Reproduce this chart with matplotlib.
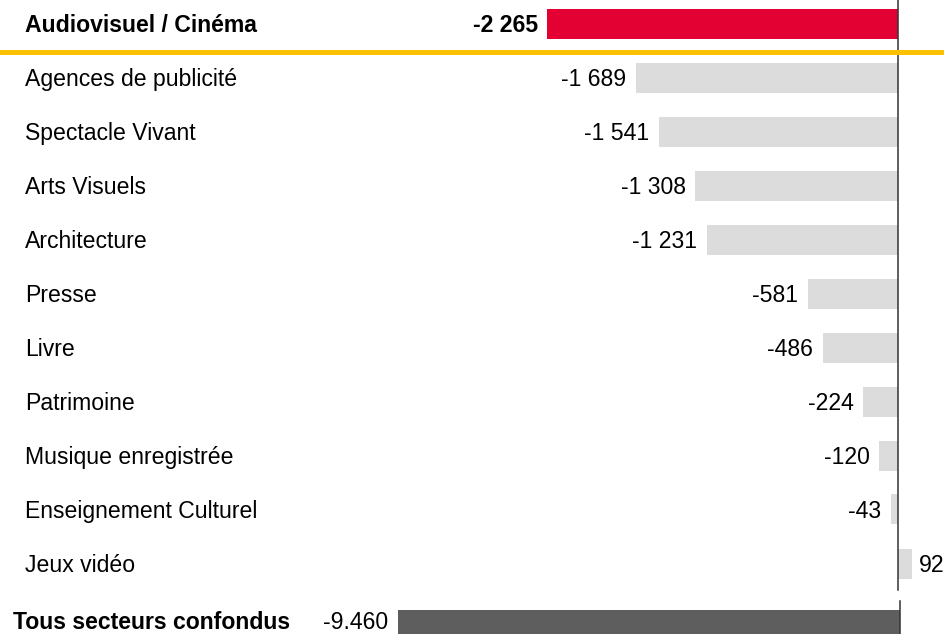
import matplotlib
matplotlib.use('Agg')
import matplotlib.pyplot as plt
from matplotlib.transforms import blended_transform_factory

plt.rcParams['font.family'] = ['Liberation Sans', 'DejaVu Sans']

# data (milliers d'emplois / évolution)
highlight = 'Audiovisuel / Cinéma'
highlight_value = -2265
sectors = ['Agences de publicité', 'Spectacle Vivant', 'Arts Visuels', 'Architecture',
           'Presse', 'Livre', 'Patrimoine', 'Musique enregistrée',
           'Enseignement Culturel', 'Jeux vidéo']
values = [-1689, -1541, -1308, -1231, -581, -486, -224, -120, -43, 92]
total_label = 'Tous secteurs confondus'
total_value = -9460

W, H = 944, 634
fs = 16.6
fig = plt.figure(figsize=(W / 100, H / 100), dpi=100)

# top axes: row pitch 54 px, zero at x=898 px, 0.155 px per unit
ppu = 0.155
pitch = 54.0
y0 = 23.5
dy = 2.0 / pitch  # text sits a little lower than bar centre
ax = fig.add_axes([0, 0, 1, 1])
ax.set_xlim(-898 / ppu, (W - 898) / ppu)
ax.set_ylim((H - y0) / pitch, -y0 / pitch)
ax.axis('off')
lab_tr = blended_transform_factory(ax.transAxes, ax.transData)


def fmt(v):
    s = f'{abs(v):,}'.replace(',', ' ')
    return ('-' if v < 0 else '') + s


bh = 30 / pitch
ax.barh([0], [highlight_value], height=bh, color='#E30032', zorder=2)
ax.text(25 / W, dy, highlight, transform=lab_tr, ha='left', va='center',
        fontsize=fs, fontweight='bold')
ax.annotate(fmt(highlight_value), (highlight_value, dy), xytext=(-6.5, 0),
            textcoords='offset points', ha='right', va='center',
            fontsize=fs, fontweight='bold')

rows = list(range(1, len(sectors) + 1))
ax.barh(rows, values, height=bh, color='#DCDCDC', zorder=2)
for r, name, v in zip(rows, sectors, values):
    ax.text(25 / W, r + dy, name, transform=lab_tr, ha='left', va='center', fontsize=fs)
    off = -7 if v < 0 else 5
    ax.annotate(fmt(v), (v, r + dy), xytext=(off, 0), textcoords='offset points',
                ha='right' if v < 0 else 'left', va='center', fontsize=fs)

# zero line and separator
ax.plot([0, 0], [-1, (590 - y0) / pitch], color='#333333', lw=1.1, zorder=3)
ax.axhline((51.5 - y0) / pitch, color='#FFC000', lw=3.6, zorder=4)

# bottom axes: total with its own scale, zero at x=900 px
ppu2 = 502 / abs(total_value)
ax2 = fig.add_axes([0, 0, 1, 1])
ax2.patch.set_alpha(0)
ax2.set_xlim(-900 / ppu2, (W - 900) / ppu2)
ax2.set_ylim(ax.get_ylim())
ax2.axis('off')
yb = (625 - y0) / pitch
ax2.barh([yb], [total_value], height=bh, color='#5E5E5E', zorder=2)
ax2.plot([0, 0], [(601 - y0) / pitch, 20], color='#333333', lw=1.1, zorder=3)
ax2.text(13 / W, yb - 0.04, total_label, transform=blended_transform_factory(ax2.transAxes, ax2.transData),
         ha='left', va='center', fontsize=fs, fontweight='bold')
ax2.annotate(f'{total_value / 1000:.3f}', (total_value, yb - 0.04), xytext=(-7, 0),
             textcoords='offset points', ha='right', va='center', fontsize=fs)

fig.savefig('out.png', dpi=100)
